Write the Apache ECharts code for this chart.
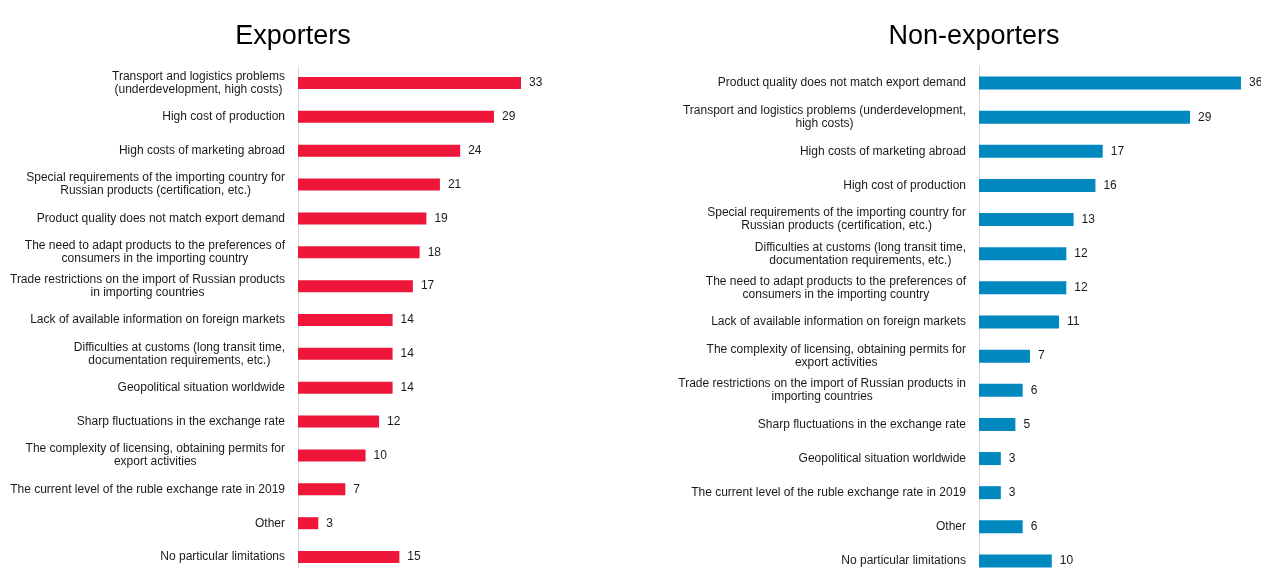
<!DOCTYPE html>
<html>
<head>
<meta charset="utf-8">
<script src="https://cdn.jsdelivr.net/npm/echarts@6/dist/echarts.min.js"></script>
<style>
  html, body { margin: 0; padding: 0; background: #fff; overflow: hidden; }
  #chart { width: 1261px; height: 600px; }
</style>
</head>
<body>
<div id="chart"></div>
<script>
// Obstacles to exporting, share of respondents (%)
const exporterCategories = [
  'Transport and logistics problems\n(underdevelopment, high costs)',
  'High cost of production',
  'High costs of marketing abroad',
  'Special requirements of the importing country for\nRussian products (certification, etc.)',
  'Product quality does not match export demand',
  'The need to adapt products to the preferences of\nconsumers in the importing country',
  'Trade restrictions on the import of Russian products\nin importing countries',
  'Lack of available information on foreign markets',
  'Difficulties at customs (long transit time,\ndocumentation requirements, etc.)',
  'Geopolitical situation worldwide',
  'Sharp fluctuations in the exchange rate',
  'The complexity of licensing, obtaining permits for\nexport activities',
  'The current level of the ruble exchange rate in 2019',
  'Other',
  'No particular limitations'
];
const exporterValues = [33, 29, 24, 21, 19, 18, 17, 14, 14, 14, 12, 10, 7, 3, 15];

const nonExporterCategories = [
  'Product quality does not match export demand',
  'Transport and logistics problems (underdevelopment,\nhigh costs)',
  'High costs of marketing abroad',
  'High cost of production',
  'Special requirements of the importing country for\nRussian products (certification, etc.)',
  'Difficulties at customs (long transit time,\ndocumentation requirements, etc.)',
  'The need to adapt products to the preferences of\nconsumers in the importing country',
  'Lack of available information on foreign markets',
  'The complexity of licensing, obtaining permits for\nexport activities',
  'Trade restrictions on the import of Russian products in\nimporting countries',
  'Sharp fluctuations in the exchange rate',
  'Geopolitical situation worldwide',
  'The current level of the ruble exchange rate in 2019',
  'Other',
  'No particular limitations'
];
const nonExporterValues = [36, 29, 17, 16, 13, 12, 12, 11, 7, 6, 5, 3, 3, 6, 10];

const panelTitles = ['Exporters', 'Non-exporters'];

const FONT = '"Liberation Sans", Arial, sans-serif';
const TEXT = '#1a1a1a';

// each line of a wrapped category label is centred within its block
function centredLines(value) {
  return value.split('\n').map(l => '{c|' + l + '}').join('\n');
}

function catAxis(gridIndex, data) {
  return {
    type: 'category',
    gridIndex: gridIndex,
    data: data,
    inverse: true,
    axisTick: { show: false },
    axisLine: { show: true, lineStyle: { color: '#d9d9d9', width: 1 } },
    axisLabel: {
      margin: 13,
      formatter: centredLines,
      rich: {
        c: { align: 'center', fontFamily: FONT, fontSize: 12, lineHeight: 13, color: TEXT }
      }
    }
  };
}

function valAxis(gridIndex, max) {
  return {
    type: 'value',
    gridIndex: gridIndex,
    min: 0,
    max: max,
    show: false,
    splitLine: { show: false }
  };
}

function barSeries(gridIndex, values, color, width) {
  return {
    type: 'bar',
    xAxisIndex: gridIndex,
    yAxisIndex: gridIndex,
    data: values,
    barWidth: width,
    itemStyle: { color: color },
    label: {
      show: true,
      position: 'right',
      distance: 8,
      fontFamily: FONT,
      fontSize: 12,
      color: TEXT
    },
    silent: true,
    animation: false
  };
}

const chart = echarts.init(document.getElementById('chart'));
chart.setOption({
  backgroundColor: '#ffffff',
  animation: false,
  title: [
    { text: panelTitles[0], left: 288, top: 18, textAlign: 'center',
      textStyle: { fontFamily: FONT, fontSize: 27, fontWeight: 'normal', color: '#000' } },
    { text: panelTitles[1], left: 969, top: 18, textAlign: 'center',
      textStyle: { fontFamily: FONT, fontSize: 27, fontWeight: 'normal', color: '#000' } }
  ],
  grid: [
    { left: 298, top: 66, width: 223, height: 508, containLabel: false },
    { left: 979, top: 66, width: 262, height: 512, containLabel: false }
  ],
  xAxis: [valAxis(0, 33), valAxis(1, 36)],
  yAxis: [catAxis(0, exporterCategories), catAxis(1, nonExporterCategories)],
  series: [
    barSeries(0, exporterValues, '#ee1639', 12),
    barSeries(1, nonExporterValues, '#0088bf', 13)
  ]
});
</script>
</body>
</html>
